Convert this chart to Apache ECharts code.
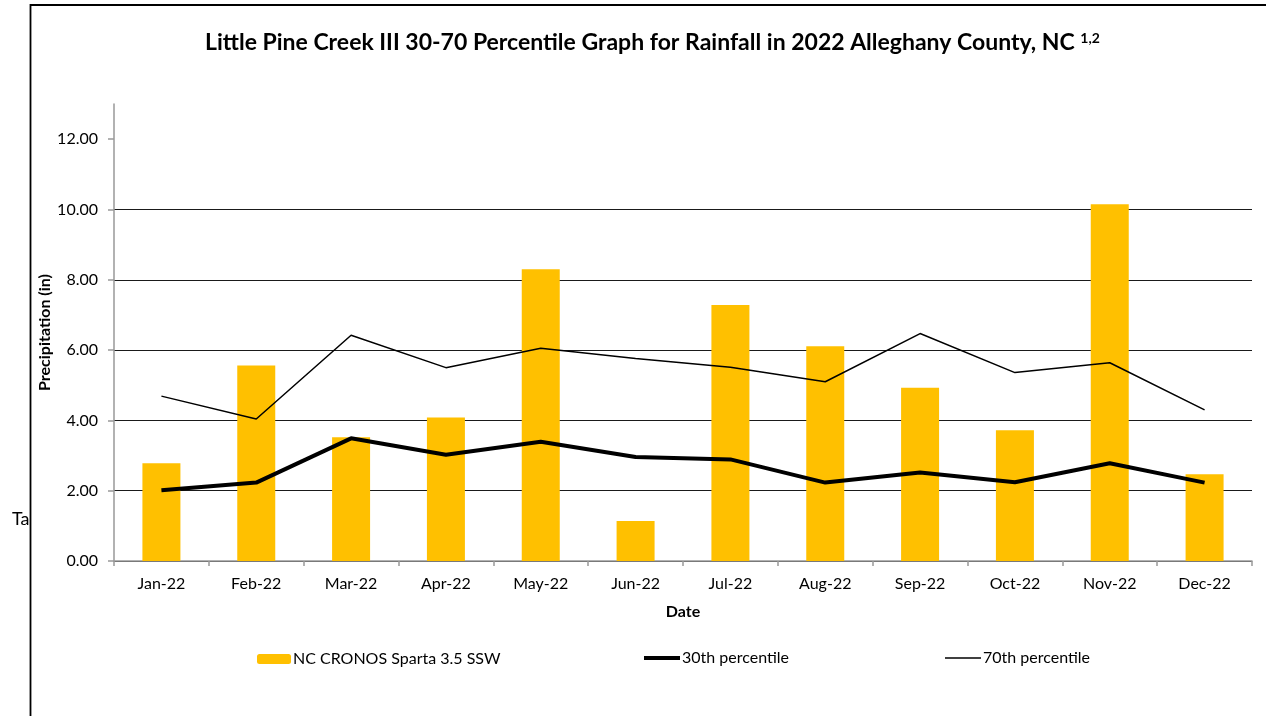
<!DOCTYPE html>
<html>
<head>
<meta charset="utf-8">
<script src="https://cdn.jsdelivr.net/npm/echarts@6/dist/echarts.min.js"></script>
<style>html,body{margin:0;padding:0;background:#fff}#c{width:1266px;height:716px}</style>
</head>
<body>
<div id="c"></div>
<script>
var months = ['Jan-22','Feb-22','Mar-22','Apr-22','May-22','Jun-22','Jul-22','Aug-22','Sep-22','Oct-22','Nov-22','Dec-22'];
var rainfall = [2.78, 5.56, 3.52, 4.08, 8.30, 1.14, 7.28, 6.11, 4.93, 3.72, 10.15, 2.47];
var p30 = [2.01, 2.23, 3.49, 3.02, 3.39, 2.96, 2.89, 2.23, 2.52, 2.24, 2.78, 2.23];
var p70 = [4.69, 4.04, 6.42, 5.50, 6.05, 5.76, 5.51, 5.10, 6.47, 5.36, 5.64, 4.30];
var yTicks = [0, 2, 4, 6, 8, 10, 12];
var seriesNames = ['NC CRONOS Sparta 3.5 SSW', '30th percentile', '70th percentile'];

var FONT = 'Lato';
var chart = echarts.init(document.getElementById('c'), null, {renderer: 'canvas'});
chart.setOption({
  animation: false,
  backgroundColor: '#fff',
  textStyle: {fontFamily: FONT, color: '#000'},
  title: {
    left: 205,
    top: 31,
    padding: 0,
    text: '{a|Little Pine Creek III 30-70 Percentile Graph for Rainfall in 2022 Alleghany County, NC }{b|1,2}',
    textStyle: {
      rich: {
        a: {fontFamily: FONT, fontWeight: 'bold', fontSize: 23, color: '#000'},
        b: {fontFamily: FONT, fontWeight: 'bold', fontSize: 14, color: '#000', padding: [0, 0, 10, 0]}
      }
    }
  },
  grid: {left: 114, right: 14, top: 104, bottom: 155, containLabel: false},
  legend: [
    {data: [seriesNames[0]], left: 252, top: 646, itemWidth: 34, itemHeight: 10, itemGap: 0,
     textStyle: {fontFamily: FONT, fontSize: 16, color: '#000', padding: [0, 0, 0, -3]}},
    {data: [{name: seriesNames[1], icon: 'rect'}], left: 639, top: 645, itemWidth: 36, itemHeight: 4, itemGap: 0,
     textStyle: {fontFamily: FONT, fontSize: 16, color: '#000', padding: [0, 0, 0, -3]}},
    {data: [{name: seriesNames[2], icon: 'rect'}], left: 940, top: 645, itemWidth: 36, itemHeight: 1.5, itemGap: 0,
     textStyle: {fontFamily: FONT, fontSize: 16, color: '#000', padding: [0, 0, 0, -3]}}
  ],
  xAxis: {
    type: 'category',
    data: months,
    boundaryGap: true,
    name: 'Date',
    nameLocation: 'middle',
    nameGap: 43,
    nameMoveOverlap: false,
    nameTextStyle: {fontFamily: FONT, fontWeight: 'bold', fontSize: 16, color: '#000'},
    axisLine: {lineStyle: {color: '#999', width: 1.5}},
    axisTick: {show: true, length: 5, lineStyle: {color: '#999', width: 1.5}},
    axisLabel: {fontFamily: FONT, fontSize: 16, color: '#000', margin: 15}
  },
  yAxis: {
    type: 'value',
    min: 0,
    max: 13,
    interval: 2,
    name: 'Precipitation (in)',
    nameLocation: 'middle',
    nameGap: 61,
    nameMoveOverlap: false,
    nameTextStyle: {fontFamily: FONT, fontWeight: 'bold', fontSize: 16, color: '#000'},
    axisLine: {show: true, lineStyle: {color: '#999', width: 1.5}},
    axisTick: {show: true, length: 6, customValues: yTicks, lineStyle: {color: '#999', width: 1.5}},
    axisLabel: {fontFamily: FONT, fontSize: 16, color: '#000', margin: 16, customValues: yTicks,
      formatter: function (v) { return v.toFixed(2); }},
    splitLine: {show: true, showMaxLine: false, lineStyle: {color: '#1a1a1a', width: 1.2}}
  },
  series: [
    {name: seriesNames[0], type: 'bar', data: rainfall, barWidth: 38,
     itemStyle: {color: '#FFC000'}, z: 2},
    {name: seriesNames[1], type: 'line', data: p30, symbol: 'none', showSymbol: false,
     lineStyle: {color: '#000', width: 4}, itemStyle: {color: '#000'}, z: 4},
    {name: seriesNames[2], type: 'line', data: p70, symbol: 'none', showSymbol: false,
     lineStyle: {color: '#000', width: 1.5}, itemStyle: {color: '#000'}, z: 3}
  ],
  graphic: [
    {type: 'text', left: 12, top: 510, z: 1,
     style: {text: 'Ta', fontFamily: FONT, fontSize: 18, fill: '#000'}},
    {type: 'rect', z: 10, silent: true,
     shape: {x: 30.5, y: 5, width: 1400, height: 900},
     style: {fill: null, stroke: '#000', lineWidth: 1.8}}
  ]
});
</script>
</body>
</html>
